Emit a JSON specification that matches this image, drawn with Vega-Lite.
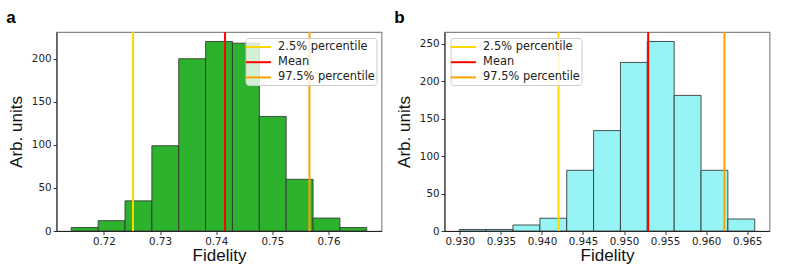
{
  "$schema": "https://vega.github.io/schema/vega-lite/v6.json",
  "padding": {"left": 5.5, "top": 8, "right": 5, "bottom": 5},
  "background": "white",
  "datasets": {
    "histA": [
      {"start": 0.71418, "end": 0.71897, "count": 4},
      {"start": 0.71897, "end": 0.72375, "count": 12},
      {"start": 0.72375, "end": 0.72854, "count": 35},
      {"start": 0.72854, "end": 0.73332, "count": 99},
      {"start": 0.73332, "end": 0.73811, "count": 200},
      {"start": 0.73811, "end": 0.74289, "count": 220},
      {"start": 0.74289, "end": 0.74768, "count": 218},
      {"start": 0.74768, "end": 0.75246, "count": 133},
      {"start": 0.75246, "end": 0.75725, "count": 60},
      {"start": 0.75725, "end": 0.76203, "count": 15},
      {"start": 0.76203, "end": 0.76681, "count": 4}
    ],
    "linesA": [
      {"label": "2.5% percentile", "value": 0.72517},
      {"label": "Mean", "value": 0.74157},
      {"label": "97.5% percentile", "value": 0.7566}
    ],
    "histB": [
      {"start": 0.92993, "end": 0.9332, "count": 2},
      {"start": 0.9332, "end": 0.93647, "count": 2},
      {"start": 0.93647, "end": 0.93975, "count": 8},
      {"start": 0.93975, "end": 0.94302, "count": 17},
      {"start": 0.94302, "end": 0.94629, "count": 81},
      {"start": 0.94629, "end": 0.94956, "count": 134},
      {"start": 0.94956, "end": 0.95283, "count": 225},
      {"start": 0.95283, "end": 0.95611, "count": 253},
      {"start": 0.95611, "end": 0.95938, "count": 181},
      {"start": 0.95938, "end": 0.96265, "count": 81},
      {"start": 0.96265, "end": 0.96592, "count": 16}
    ],
    "linesB": [
      {"label": "2.5% percentile", "value": 0.94202},
      {"label": "Mean", "value": 0.95294},
      {"label": "97.5% percentile", "value": 0.96223}
    ]
  },
  "spacing": 11,
  "resolve": {"scale": {"color": "independent"}, "legend": {"color": "independent"}},
  "hconcat": [
    {
      "width": 325,
      "height": 199,
      "title": {"text": "a", "anchor": "start", "frame": "bounds", "dx": -1},
      "layer": [
        {
          "data": {"name": "histA"},
          "mark": {"type": "bar", "fill": "#2cb22c", "stroke": "#333333", "strokeWidth": 1, "strokeOpacity": 0.85},
          "encoding": {
            "x": {"field": "start", "type": "quantitative",
              "scale": {"domain": [0.71155, 0.76944], "nice": false, "zero": false},
              "axis": {"values": [0.72, 0.73, 0.74, 0.75, 0.76], "format": ".2f", "title": "Fidelity"}},
            "x2": {"field": "end"},
            "y": {"field": "count", "type": "quantitative",
              "scale": {"domain": [0, 231], "nice": false},
              "axis": {"values": [0, 50, 100, 150, 200], "title": "Arb. units"}},
            "y2": {"datum": 0}
          }
        },
        {
          "data": {"name": "linesA"},
          "mark": {"type": "rule", "strokeWidth": 2},
          "encoding": {
            "x": {"field": "value", "type": "quantitative"},
            "color": {"field": "label", "type": "nominal",
              "scale": {"domain": ["2.5% percentile", "Mean", "97.5% percentile"], "range": ["#FFD700", "#FF0000", "#FFA200"]},
              "legend": {"orient": "top-right", "offset": 5.5}}
          }
        }
      ]
    },
    {
      "width": 325,
      "height": 199,
      "title": {"text": "b", "anchor": "start", "frame": "bounds", "dx": -1},
      "layer": [
        {
          "data": {"name": "histB"},
          "mark": {"type": "bar", "fill": "#97f4f4", "stroke": "#333333", "strokeWidth": 1, "strokeOpacity": 0.85},
          "encoding": {
            "x": {"field": "start", "type": "quantitative",
              "scale": {"domain": [0.92813, 0.96772], "nice": false, "zero": false},
              "axis": {"values": [0.93, 0.935, 0.94, 0.945, 0.95, 0.955, 0.96, 0.965], "format": ".3f", "title": "Fidelity"}},
            "x2": {"field": "end"},
            "y": {"field": "count", "type": "quantitative",
              "scale": {"domain": [0, 265.65], "nice": false},
              "axis": {"values": [0, 50, 100, 150, 200, 250], "title": "Arb. units"}},
            "y2": {"datum": 0}
          }
        },
        {
          "data": {"name": "linesB"},
          "mark": {"type": "rule", "strokeWidth": 2},
          "encoding": {
            "x": {"field": "value", "type": "quantitative"},
            "color": {"field": "label", "type": "nominal",
              "scale": {"domain": ["2.5% percentile", "Mean", "97.5% percentile"], "range": ["#FFD700", "#FF0000", "#FFA200"]},
              "legend": {"orient": "top-left", "offset": 5.5}}
          }
        }
      ]
    }
  ],
  "config": {
    "view": {"stroke": "#888888", "strokeWidth": 1.2},
    "axis": {
      "grid": false,
      "domainColor": "#222222",
      "domainWidth": 1,
      "tickColor": "#222222",
      "tickSize": 3.5,
      "tickWidth": 0.9,
      "labelFont": "DejaVu Sans",
      "labelFontSize": 10.3,
      "labelColor": "#222222",
      "labelPadding": 2,
      "titleFont": "Liberation Sans",
      "titleFontSize": 17,
      "titleFontWeight": "normal",
      "titleColor": "#111111"
    },
    "axisX": {"titlePadding": 1, "labelFlush": false},
    "axisY": {"titlePadding": 6},
    "title": {"font": "Liberation Sans", "fontSize": 17, "fontWeight": "bold", "color": "#000000", "offset": 4},
    "legend": {
      "title": null,
      "symbolType": "M-2,0H2",
      "symbolSize": 156,
      "symbolStrokeWidth": 2,
      "symbolOffset": 3.9,
      "labelOffset": 12.2,
      "labelFont": "DejaVu Sans",
      "labelFontSize": 11.4,
      "labelColor": "#222222",
      "rowPadding": 2.2,
      "padding": 1.5,
      "fillColor": "rgba(255,255,255,0.8)",
      "strokeColor": "#cccccc",
      "cornerRadius": 3
    }
  }
}
